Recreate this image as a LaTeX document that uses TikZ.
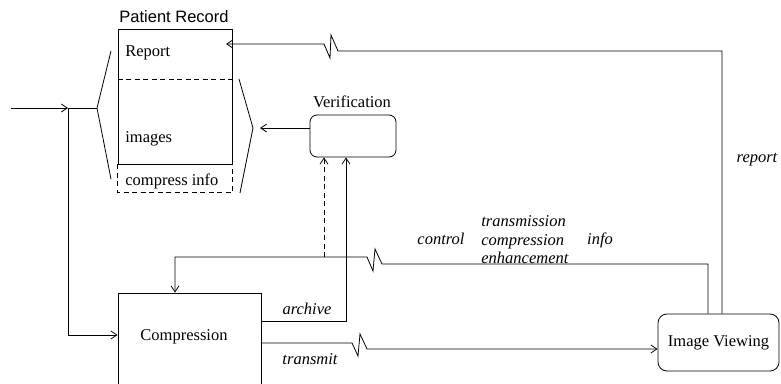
\documentclass[tikz,border=0pt]{standalone}
\usepackage{fontspec}
\setmainfont{Liberation Serif}
\newfontfamily\labelsans{Liberation Sans}
\usetikzlibrary{arrows.meta}
\begin{document}
\begin{tikzpicture}[x=1pt,y=-1pt, line width=0.8pt,
  >={Straight Barb[length=6pt,width=8pt]},
  every node/.style={font=\fontsize{16.5}{18}\selectfont, inner sep=0pt},
  box/.style={draw, rectangle},
  rbox/.style={draw, rounded corners=7pt},
  longdash/.style={dash pattern=on 5pt off 3.5pt},
  flow/.style={font=\fontsize{16.5}{18.5}\selectfont\itshape},
]
\useasboundingbox (0,0) rectangle (781,383);

% Patient record store
\node[box, minimum width=114pt, minimum height=135pt] (rec) at (175,96.5) {};
\draw[longdash] (rec.west |- 0,79) -- (rec.east |- 0,79);
\draw[longdash] (rec.south west) -- ++(0,28) -| (rec.south east);
\node[font=\labelsans\fontsize{16.5}{18}\selectfont] (rectitle) at (174,17) {Patient Record};
\node[anchor=west] (rpt) at (125,53) {Report};
\node[anchor=west] (img) at (125,139) {images};
\node[anchor=west] (ci) at (125,181) {compress info};

% brackets around the record
\coordinate (lapex) at (97,108);
\coordinate (rapex) at (253,128);
\draw (111,51) -- (lapex) -- (111,179);
\draw (239,79) -- (rapex) -- (240,193);

% process boxes
\node[rbox, minimum width=86pt, minimum height=42pt] (ver) at (353,136) {};
\node (vertitle) at (352,102) {Verification};
\node[box, minimum width=143pt, minimum height=120pt] (comp) at (189.5,353) {};
\node (comptxt) at (184,337) {Compression};
\node[rbox, rounded corners=9pt, minimum width=121pt, minimum height=57pt] (iv) at (718.5,342.5) {Image Viewing};

% incoming data
\coordinate (src) at (11,108);
\coordinate (split) at (68,108);
\draw[->] (src) -- (split);
\draw (split) -- (lapex);
\draw[->] (split) |- (comp.west |- 0,335);

% verification result back to the record
\draw[->] (ver.west |- 0,128) -- (260,128);

% archive and dashed check into verification
\draw[->] (comp.east |- 0,321) -| (ver.south -| 346,0);
\draw[->, longdash] (324,257) -- (ver.south -| 324,0);

% control path from viewing back to compression
\draw[->] (iv.north -| 708,0) -- (708,264) -- (382,264) -- (375,249) -- (373,271)
  -- (367,257) -| (comp.north -| 175,0);

% transmit path to viewing
\draw[->] (comp.east |- 0,343) -- (352,343) -- (358,356) -- (360,334) -- (367,349)
  -- (iv.west |- 0,349);

% report path back to the record
\draw[->] (iv.north -| 722,0) -- (722,51) -- (338,51) -- (331,35) -- (330,58)
  -- (324,44) -- (226,44);

% flow labels
\node[flow] (lbarch) at (307,309) {archive};
\node[flow] (lbtx) at (310,359) {transmit};
\node[flow] (lbrep) at (757,160) {report};
\node[flow] (lbctl) at (441,239) {control};
\node[flow, align=left, anchor=west] (lbkind) at (481,240) {transmission\\compression\\enhancement};
\node[flow] (lbinfo) at (600,240) {info};
\end{tikzpicture}
\end{document}
